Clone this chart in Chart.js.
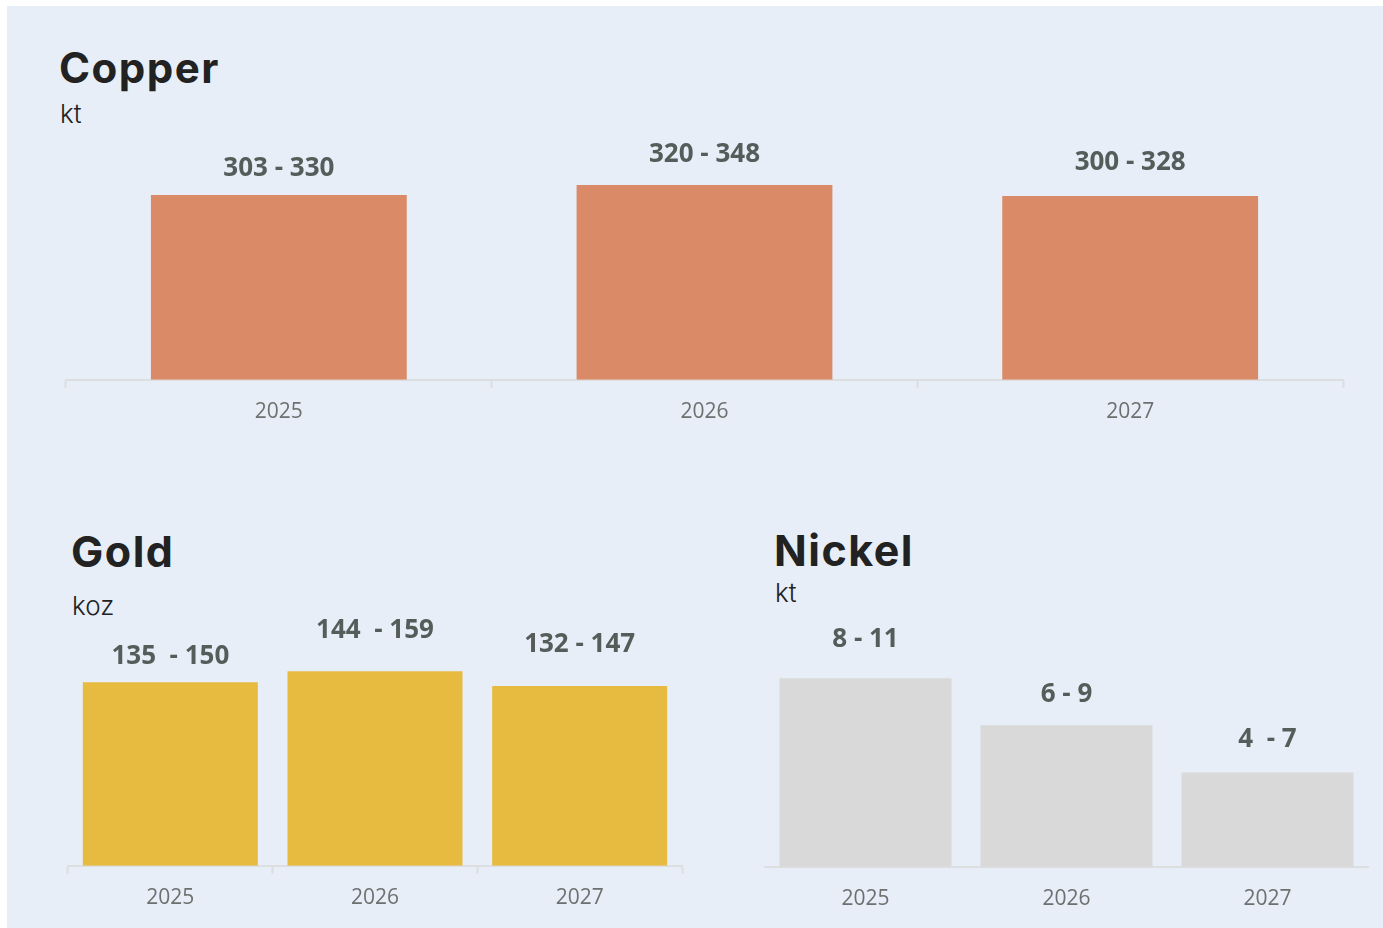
<!DOCTYPE html>
<html>
<head>
<meta charset="utf-8">
<script src="https://cdn.jsdelivr.net/npm/chart.js@4"></script>
<style>
  body { margin: 0; background: #fff; width: 1383px; height: 928px; overflow: hidden; }
  #panel { position: absolute; left: 7px; top: 6px; width: 1376px; height: 922px; background: #e7eef8; }
  .title { position: absolute; font-family: Inter, sans-serif; font-weight: 700; color: #222; line-height: 1; white-space: nowrap; letter-spacing: 1.5px; }
  .unit { position: absolute; font-family: Inter, sans-serif; font-weight: 300; color: #222; line-height: 1; font-size: 26px; }
  canvas { position: absolute; }
</style>
</head>
<body>
<div id="panel"></div>

<div class="title" style="left:59px; top:47px; font-size:42px;">Copper</div>
<div class="unit" style="left:60px; top:101px;">kt</div>
<div class="title" style="left:71px; top:530px; font-size:43px;">Gold</div>
<div class="unit" style="left:72px; top:593px;">koz</div>
<div class="title" style="left:774px; top:529px; font-size:43px;">Nickel</div>
<div class="unit" style="left:775px; top:580px;">kt</div>

<canvas id="copperChart" width="1285" height="313" style="left:62px; top:130px;"></canvas>
<canvas id="goldChart" width="622" height="314" style="left:64px; top:615px;"></canvas>
<canvas id="nickelChart" width="611" height="323" style="left:761px; top:615px;"></canvas>

<script>
// --------------- Data -----------------
const years = ["2025", "2026", "2027"];

const copperLow = [303, 320, 300];
const copperHigh = [330, 348, 328];
const copperLabels = ["303 - 330", "320 - 348", "300 - 328"];

const goldLow = [135, 144, 132];
const goldHigh = [150, 159, 147];
const goldLabels = ["135  - 150", "144  - 159", "132 - 147"];

const nickelLow = [8, 6, 4];
const nickelHigh = [11, 9, 7];
const nickelLabels = ["8 - 11", "6 - 9", "4  - 7"];

// --------------- Range labels over the bars -----------------
const rangeLabels = {
  id: "rangeLabels",
  afterDatasetsDraw(chart, args, opts) {
    const ctx = chart.ctx;
    const bars = chart.getDatasetMeta(0).data;
    ctx.save();
    ctx.font = "700 26px 'Open Sans'";
    ctx.fillStyle = "#555d5a";
    ctx.textAlign = "center";
    ctx.textBaseline = "middle";
    bars.forEach((bar, i) => {
      ctx.fillText(opts.texts[i], bar.x, bar.y - opts.gaps[i]);
    });
    ctx.restore();
  }
};

// --------------- Draw one bar chart -----------------
const drawBars = (id, values, color, yMax, barPct, texts, gaps, ticks) => {
  const ctx = document.getElementById(id).getContext("2d");
  return new Chart(ctx, {
    type: "bar",
    data: {
      labels: years,
      datasets: [{
        data: values,
        backgroundColor: color,
        borderWidth: 0,
        categoryPercentage: 1,
        barPercentage: barPct
      }]
    },
    options: {
      responsive: false,
      animation: false,
      layout: { padding: { left: 4, right: 4, top: 0, bottom: 6 } },
      plugins: {
        legend: { display: false },
        tooltip: { enabled: false },
        rangeLabels: { texts: texts, gaps: gaps }
      },
      scales: {
        x: {
          grid: {
            drawOnChartArea: false,
            drawTicks: ticks,
            tickLength: 8,
            tickWidth: 2,
            color: "#dcdedf"
          },
          border: { color: "#dcdedf", width: 2 },
          ticks: {
            padding: ticks ? 12 : 20,
            color: "#6c716f",
            font: { family: "'Open Sans'", size: 21 }
          }
        },
        y: { display: false, min: 0, max: yMax }
      }
    },
    plugins: [rangeLabels]
  });
};

drawBars("copperChart", copperHigh, "#da8a67", 446, 0.601, copperLabels, [26, 30, 33], true);
drawBars("goldChart", goldHigh, "#e7bb40", 205, 0.855, goldLabels, [26, 41, 41], true);
drawBars("nickelChart", nickelLow, "#d9d9d9", 10.68, 0.856, nickelLabels, [39, 31, 33], false);
</script>
</body>
</html>
